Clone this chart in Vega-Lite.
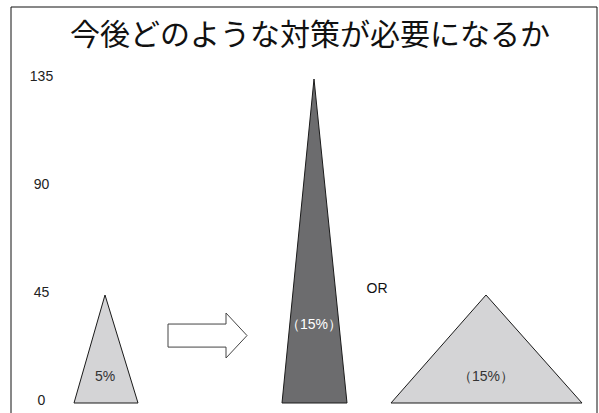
{
  "$schema": "https://vega.github.io/schema/vega-lite/v6.json",
  "width": 586,
  "height": 406,
  "autosize": {"type": "none"},
  "padding": {"left": 11, "top": 7, "right": 2, "bottom": 0},
  "background": "white",
  "config": {"view": {"stroke": null}, "font": "Liberation Sans"},
  "title": {
    "text": "今後どのような対策が必要になるか",
    "font": "Noto Sans CJK JP",
    "fontSize": 30,
    "fontWeight": "normal",
    "color": "#111111",
    "anchor": "middle",
    "frame": "group",
    "offset": -44,
    "dx": 6
  },
  "datasets": {
    "frame": [{"x": 0, "x2": 586, "y": 165, "y2": -20}],
    "triangles": [
      {"shape": "before", "tone": "light", "x": 63, "y": 0},
      {"shape": "before", "tone": "light", "x": 94, "y": 45},
      {"shape": "before", "tone": "light", "x": 127, "y": 0},
      {"shape": "tall", "tone": "dark", "x": 271, "y": 0},
      {"shape": "tall", "tone": "dark", "x": 303, "y": 135},
      {"shape": "tall", "tone": "dark", "x": 336, "y": 0},
      {"shape": "wide", "tone": "light", "x": 380, "y": 0},
      {"shape": "wide", "tone": "light", "x": 475, "y": 45},
      {"shape": "wide", "tone": "light", "x": 571, "y": 0}
    ],
    "arrow": [
      {"x": 157, "top": 32.9, "bottom": 23.3},
      {"x": 215, "top": 32.9, "bottom": 23.3},
      {"x": 215, "top": 37.5, "bottom": 18.75},
      {"x": 236, "top": 28.1, "bottom": 28.1}
    ],
    "labels": [
      {"label": "5%", "on": "light", "x": 94, "y": 10.8},
      {"label": "（15%）", "on": "dark", "x": 303, "y": 32.5},
      {"label": "（15%）", "on": "light", "x": 475, "y": 10.8},
      {"label": "OR", "on": "none", "x": 366, "y": 47.5}
    ]
  },
  "resolve": {"axis": {"x": "shared", "y": "shared"}},
  "layer": [
    {
      "data": {"name": "frame"},
      "mark": {"type": "rect", "filled": false, "stroke": "#111111", "strokeWidth": 1},
      "encoding": {
        "x": {"field": "x", "type": "quantitative", "scale": {"domain": [0, 586], "nice": false, "zero": false}, "axis": null},
        "x2": {"field": "x2"},
        "y": {
          "field": "y", "type": "quantitative",
          "scale": {"domain": [-4.1667, 165], "nice": false, "zero": false},
          "axis": {
            "title": null, "values": [0, 45, 90, 135], "domain": false, "ticks": false, "grid": false,
            "offset": -30, "labelPadding": 0, "labelAlign": "center", "labelBaseline": "middle",
            "labelOffset": -2,
            "labelFontSize": 14, "labelColor": "#222222", "labelFont": "Liberation Sans"
          }
        },
        "y2": {"field": "y2"}
      }
    },
    {
      "data": {"name": "triangles"},
      "mark": {"type": "area", "stroke": "#1a1a1a", "strokeWidth": 1, "strokeJoin": "miter"},
      "encoding": {
        "x": {"field": "x", "type": "quantitative", "axis": null},
        "y": {"field": "y", "type": "quantitative", "stack": null},
        "y2": {"datum": 0},
        "detail": {"field": "shape"},
        "fill": {"field": "tone", "type": "nominal", "scale": {"domain": ["light", "dark"], "range": ["#d4d4d6", "#6c6c6e"]}, "legend": null}
      }
    },
    {
      "data": {"name": "arrow"},
      "mark": {"type": "area", "fill": "white", "stroke": "#444444", "strokeWidth": 1, "strokeJoin": "miter"},
      "encoding": {
        "x": {"field": "x", "type": "quantitative", "axis": null},
        "y": {"field": "top", "type": "quantitative", "stack": null},
        "y2": {"field": "bottom"}
      }
    },
    {
      "data": {"name": "labels"},
      "mark": {"type": "text", "fontSize": 14, "font": "Liberation Sans", "align": "center", "baseline": "middle"},
      "encoding": {
        "x": {"field": "x", "type": "quantitative", "axis": null},
        "y": {"field": "y", "type": "quantitative"},
        "text": {"field": "label"},
        "color": {"field": "on", "type": "nominal", "scale": {"domain": ["light", "dark", "none"], "range": ["#333333", "#ffffff", "#111111"]}, "legend": null}
      }
    }
  ]
}
